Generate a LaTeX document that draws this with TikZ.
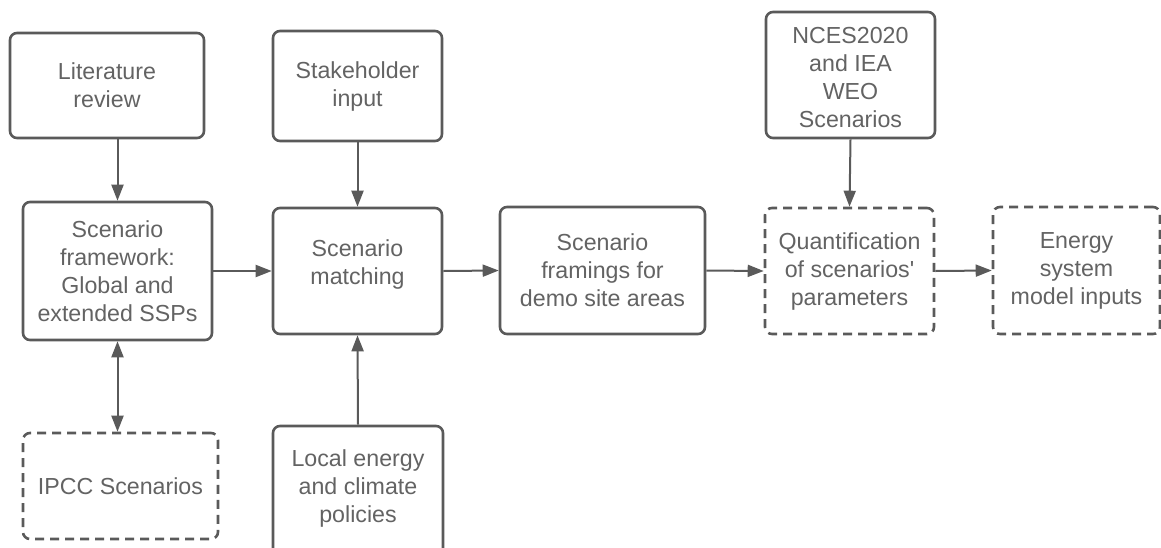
\documentclass[tikz,border=0pt]{standalone}
\usepackage{fontspec}
\setmainfont{Liberation Sans}[Ligatures=TeXOff]
\usetikzlibrary{arrows.meta}
\definecolor{edge}{HTML}{5A5A5A}
\definecolor{label}{HTML}{636363}
\tikzset{
  txt/.style={text=label, align=center, inner sep=0pt,
    font=\fontsize{23.2pt}{28pt}\selectfont},
  box/.style={txt, draw=edge, line width=2.6pt, rounded corners=7pt, fill=white},
  dbox/.style={box, dash pattern=on 9pt off 6pt},
  arr/.style={draw=edge, line width=2pt, -{Triangle[length=16pt,width=12pt]}},
  darr/.style={draw=edge, line width=2pt,
    {Triangle[length=16pt,width=12pt]}-{Triangle[length=16pt,width=12pt]}}
}
\begin{document}
\begin{tikzpicture}[x=1pt,y=-1pt]
\useasboundingbox (0,0) rectangle (1161,547);

% first column
\node[box, minimum width=194pt, minimum height=105pt] (lit) at (107,85.5)
  {Literature\\review};
\node[box, minimum width=189pt, minimum height=138pt] (frame) at (117.5,271)
  {Scenario\\framework:\\Global and\\extended SSPs};
\node[dbox, minimum width=195pt, minimum height=106pt] (ipcc) at (120.5,486)
  {IPCC Scenarios};

% second column
\node[box, minimum width=169pt, minimum height=110pt] (stake) at (357.5,86)
  {Stakeholder\\input};
\node[box, minimum width=169pt, minimum height=126pt] (match) at (357.5,271) {};
\node[txt] (matchtext) at ([yshift=7pt]match.center) {Scenario\\matching};
\node[box, minimum width=170pt, minimum height=134pt] (local) at (358,493) {};
\node[txt] (localtext) at ([yshift=5pt]local.center)
  {Local energy\\and climate\\policies};

% third column
\node[box, minimum width=205pt, minimum height=127pt] (framing) at (602.5,270.5)
  {Scenario\\framings for\\demo site areas};

% fourth column
\node[box, minimum width=169pt, minimum height=126pt] (nces) at (850.5,75) {};
\node[txt] (ncestext) at ([yshift=-3pt]nces.center)
  {NCES2020\\and IEA\\WEO\\Scenarios};
\node[dbox, minimum width=169pt, minimum height=126pt] (quant) at (849.5,271)
  {Quantification\\of scenarios'\\parameters};

% fifth column
\node[dbox, minimum width=167pt, minimum height=127pt] (energy) at (1076.5,270.5)
  {Energy\\system\\model inputs};

% connectors
\draw[arr] (lit.south -| frame.north) -- (frame.north);
\draw[arr] (stake.south) -- (match.north);
\draw[arr] (local.north) -- (match.south);
\draw[arr] (nces.south) -- (quant.north);
\draw[darr] (frame.south) -- (ipcc.north -| frame.south);
\draw[arr] (frame.east) -- (match.west);
\draw[arr] (match.east) -- (framing.west);
\draw[arr] (framing.east) -- (quant.west);
\draw[arr] (quant.east) -- (energy.west);
\end{tikzpicture}
\end{document}
